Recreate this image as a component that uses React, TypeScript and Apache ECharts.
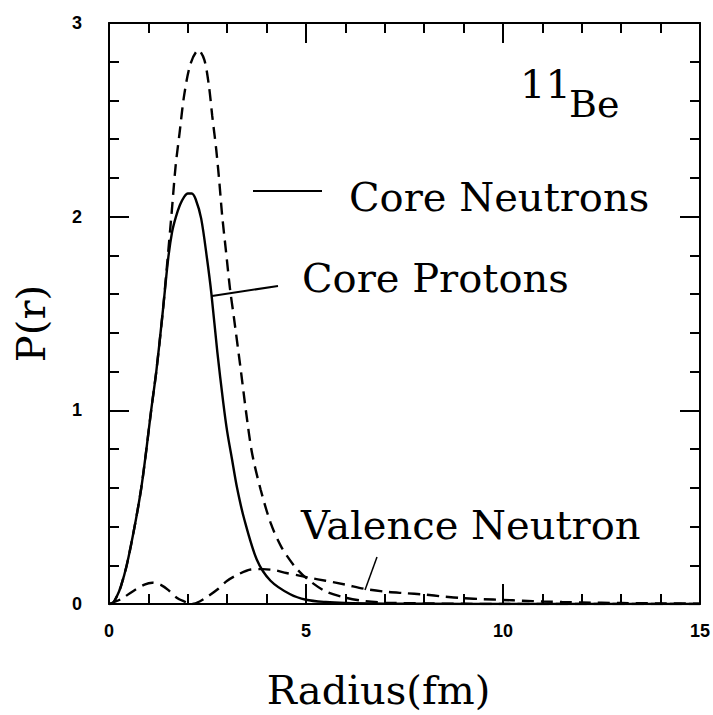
import React, { useEffect, useRef } from "react";
import * as echarts from "echarts";

// Radius (fm) samples and P(r) values
const protonR = [0, 0.1, 0.2, 0.3, 0.45, 0.65, 0.82, 0.95, 1.07, 1.2, 1.36, 1.5, 1.6, 1.7, 1.8, 1.9, 2.0, 2.1, 2.2, 2.34, 2.49, 2.6, 2.75, 2.9, 3.0, 3.12, 3.25, 3.43, 3.75, 4.1, 4.6, 5.0, 5.5, 6.0, 7.0, 8.0, 10, 12, 15];
const coreProtons = [0, 0.005, 0.04, 0.09, 0.2, 0.4, 0.6, 0.8, 1.0, 1.2, 1.5, 1.78, 1.92, 2.0, 2.06, 2.1, 2.12, 2.12, 2.09, 1.99, 1.78, 1.6, 1.3, 1.04, 0.89, 0.75, 0.6, 0.44, 0.23, 0.12, 0.05, 0.022, 0.01, 0.005, 0.002, 0.001, 0, 0, 0];

const neutronR = [0, 0.1, 0.2, 0.3, 0.45, 0.65, 0.82, 0.95, 1.07, 1.2, 1.36, 1.46, 1.59, 1.69, 1.79, 1.91, 2.07, 2.27, 2.42, 2.54, 2.62, 2.72, 2.8, 2.87, 2.97, 3.07, 3.17, 3.35, 3.48, 3.63, 3.85, 4.1, 4.36, 4.69, 5.0, 5.5, 6.0, 6.5, 7.0, 8.0, 9.0, 10, 12, 15];
const coreNeutrons = [0, 0.005, 0.04, 0.09, 0.2, 0.4, 0.6, 0.8, 1.0, 1.2, 1.5, 1.72, 2.02, 2.26, 2.43, 2.63, 2.79, 2.86, 2.81, 2.67, 2.52, 2.35, 2.18, 2.01, 1.82, 1.63, 1.48, 1.2, 0.99, 0.78, 0.59, 0.42, 0.3, 0.2, 0.135, 0.065, 0.033, 0.015, 0.007, 0.003, 0.001, 0, 0, 0];

const valenceR = [0, 0.3, 0.6, 0.9, 1.1, 1.3, 1.5, 1.75, 2.0, 2.1, 2.3, 2.5, 2.75, 3.0, 3.3, 3.6, 3.9, 4.2, 4.5, 4.8, 5.1, 5.5, 6.0, 6.5, 7.0, 7.5, 8.0, 8.5, 9.0, 9.5, 10, 10.5, 11, 11.5, 12, 13, 14, 15];
const valenceNeutron = [0, 0.025, 0.065, 0.1, 0.11, 0.1, 0.073, 0.028, 0.006, 0, 0.013, 0.038, 0.075, 0.12, 0.155, 0.178, 0.18, 0.175, 0.16, 0.148, 0.135, 0.12, 0.1, 0.078, 0.064, 0.056, 0.049, 0.038, 0.03, 0.025, 0.021, 0.017, 0.013, 0.01, 0.008, 0.005, 0.003, 0.002];

const xTicks = { min: 0, max: 15, interval: 5 };
const yTicks = { min: 0, max: 3, interval: 1 };

const pairs = (xs: number[], ys: number[]) => xs.map((x, i) => [x, ys[i]]);

const SERIF = "DejaVu Serif";
const TICK_FONT = "Liberation Sans";

export default function App() {
  const ref = useRef<HTMLDivElement>(null);
  useEffect(() => {
    if (!ref.current) return;
    const chart = echarts.init(ref.current, null, { renderer: "svg" });
    const lineCol = "#000";
    const axisCommon = (showLabel: boolean, isX: boolean) => ({
      type: "value" as const,
      splitLine: { show: false },
      axisLine: { show: true, onZero: false, lineStyle: { color: lineCol, width: 2 } },
      axisTick: { show: true, inside: true, length: 20, lineStyle: { color: lineCol, width: 2 } },
      minorTick: { show: true, splitNumber: 5, length: 10, lineStyle: { color: lineCol, width: 2 } },
      axisLabel: {
        show: showLabel,
        color: "#000",
        fontFamily: TICK_FONT,
        fontWeight: "bold" as const,
        fontSize: 18,
        margin: isX ? 18 : 27,
      },
    });
    chart.setOption({
      animation: false,
      backgroundColor: "#fff",
      grid: { left: 109, right: 10, top: 23, bottom: 102, containLabel: false },
      xAxis: [
        {
          ...axisCommon(true, true),
          ...xTicks,
          position: "bottom",
          name: "Radius(fm)",
          nameLocation: "middle",
          nameGap: 66,
          nameTextStyle: { fontFamily: SERIF, fontSize: 40, color: "#000", padding: [0, 52, 0, 0] },
        },
        { ...axisCommon(false, true), ...xTicks, position: "top" },
      ],
      yAxis: [
        {
          ...axisCommon(true, false),
          ...yTicks,
          position: "left",
          name: "P(r)",
          nameLocation: "middle",
          nameGap: 58,
          nameTextStyle: { fontFamily: SERIF, fontSize: 40, color: "#000", padding: [0, 20, 0, 0] },
        },
        { ...axisCommon(false, false), ...yTicks, position: "right" },
      ],
      series: [
        {
          name: "Core Neutrons",
          type: "line",
          data: pairs(neutronR, coreNeutrons),
          smooth: 0.3,
          showSymbol: false,
          lineStyle: { color: "#000", width: 2.4, type: [12, 7] },
        },
        {
          name: "Core Protons",
          type: "line",
          data: pairs(protonR, coreProtons),
          smooth: 0.3,
          showSymbol: false,
          lineStyle: { color: "#000", width: 2.4, type: "solid" },
        },
        {
          name: "Valence Neutron",
          type: "line",
          data: pairs(valenceR, valenceNeutron),
          smooth: 0.3,
          showSymbol: false,
          lineStyle: { color: "#000", width: 2.4, type: [12, 7] },
        },
      ],
      graphic: [
        { type: "text", x: 520, y: 84, style: { text: "11", font: `40px "${SERIF}"`, fill: "#000", align: "left", verticalAlign: "middle" } },
        { type: "text", x: 569, y: 104, style: { text: "Be", font: `38px "${SERIF}"`, fill: "#000", align: "left", verticalAlign: "middle" } },
        { type: "text", x: 349, y: 197, style: { text: "Core Neutrons", font: `40px "${SERIF}"`, fill: "#000", align: "left", verticalAlign: "middle" } },
        { type: "text", x: 302, y: 278, style: { text: "Core Protons", font: `40px "${SERIF}"`, fill: "#000", align: "left", verticalAlign: "middle" } },
        { type: "text", x: 301, y: 525, style: { text: "Valence Neutron", font: `40px "${SERIF}"`, fill: "#000", align: "left", verticalAlign: "middle" } },
        { type: "line", shape: { x1: 253, y1: 191, x2: 322, y2: 191 }, style: { stroke: "#000", lineWidth: 2 } },
        { type: "line", shape: { x1: 212, y1: 296, x2: 278, y2: 286 }, style: { stroke: "#000", lineWidth: 2 } },
        { type: "line", shape: { x1: 377, y1: 557, x2: 365, y2: 590 }, style: { stroke: "#000", lineWidth: 1.5 } },
      ],
    });
    return () => chart.dispose();
  }, []);
  return (
    <div
      ref={ref}
      style={{ position: "fixed", left: 0, top: 0, width: 713, height: 715, background: "#fff" }}
    />
  );
}
